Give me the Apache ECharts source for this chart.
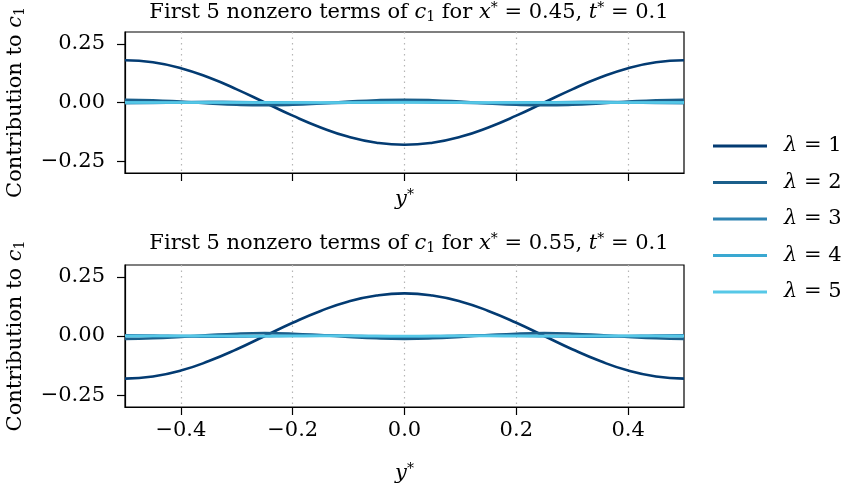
<!DOCTYPE html>
<html>
<head>
<meta charset="utf-8">
<script src="https://cdn.jsdelivr.net/npm/echarts@6/dist/echarts.min.js"></script>
<style>html,body{margin:0;padding:0;background:#fff;}#c{width:842px;height:490px;}</style>
</head>
<body>
<div id="c"></div>
<script>
// y* sample positions
const yStar = [-0.5,-0.45,-0.4,-0.35,-0.3,-0.25,-0.2,-0.15,-0.1,-0.05,0,0.05,0.1,0.15,0.2,0.25,0.3,0.35,0.4,0.45,0.5];
// top panel: x* = 0.45
const top1 = [0.180,0.171,0.146,0.106,0.056,0.000,-0.056,-0.106,-0.146,-0.171,-0.180,-0.171,-0.146,-0.106,-0.056,0.000,0.056,0.106,0.146,0.171,0.180];
const top2 = [0.012,0.0097,0.0037,-0.0037,-0.0097,-0.012,-0.0097,-0.0037,0.0037,0.0097,0.012,0.0097,0.0037,-0.0037,-0.0097,-0.012,-0.0097,-0.0037,0.0037,0.0097,0.012];
const top3 = [-0.003,-0.0018,0.0009,0.0029,0.0024,0.0,-0.0024,-0.0029,-0.0009,0.0018,0.003,0.0018,-0.0009,-0.0029,-0.0024,0.0,0.0024,0.0029,0.0009,-0.0018,-0.003];
const top4 = [0.001,0.0003,-0.0008,-0.0008,0.0003,0.001,0.0003,-0.0008,-0.0008,0.0003,0.001,0.0003,-0.0008,-0.0008,0.0003,0.001,0.0003,-0.0008,-0.0008,0.0003,0.001];
const top5 = [-0.0003,0,0.0003,0,-0.0003,0,0.0003,0,-0.0003,0,0.0003,0,-0.0003,0,0.0003,0,-0.0003,0,0.0003,0,-0.0003];
// bottom panel: x* = 0.55
const bot1 = [-0.180,-0.171,-0.146,-0.106,-0.056,0.000,0.056,0.106,0.146,0.171,0.180,0.171,0.146,0.106,0.056,0.000,-0.056,-0.106,-0.146,-0.171,-0.180];
const bot2 = [-0.012,-0.0097,-0.0037,0.0037,0.0097,0.012,0.0097,0.0037,-0.0037,-0.0097,-0.012,-0.0097,-0.0037,0.0037,0.0097,0.012,0.0097,0.0037,-0.0037,-0.0097,-0.012];
const bot3 = [0.003,0.0018,-0.0009,-0.0029,-0.0024,0.0,0.0024,0.0029,0.0009,-0.0018,-0.003,-0.0018,0.0009,0.0029,0.0024,0.0,-0.0024,-0.0029,-0.0009,0.0018,0.003];
const bot4 = [-0.001,-0.0003,0.0008,0.0008,-0.0003,-0.001,-0.0003,0.0008,0.0008,-0.0003,-0.001,-0.0003,0.0008,0.0008,-0.0003,-0.001,-0.0003,0.0008,0.0008,-0.0003,-0.001];
const bot5 = [0.0003,0,-0.0003,0,0.0003,0,-0.0003,0,0.0003,0,-0.0003,0,0.0003,0,-0.0003,0,0.0003,0,-0.0003,0,0.0003];
const xTicks = [-0.4,-0.2,0.0,0.2,0.4];
const yTicks = [-0.25,0.0,0.25];
const names = ['λ = 1','λ = 2','λ = 3','λ = 4','λ = 5'];
const colors = ['#033b72','#1b5f8b','#2d82b1','#3aa8d1','#56c8e7'];

const FONT = 'DejaVu Serif';
const FS = 21;
const rich = {
  i:{fontFamily:FONT,fontStyle:'italic',fontSize:FS,color:'#000'},
  n:{fontFamily:FONT,fontSize:FS,color:'#000'},
  sub:{fontFamily:FONT,fontSize:14,color:'#000',verticalAlign:'bottom',padding:[9,0,0,0]},
  sup:{fontFamily:FONT,fontSize:14,color:'#000',verticalAlign:'top',padding:[0,0,9,0]}
};
function fmtX(v){ return (v<0?'\u2212':'') + Math.abs(v).toFixed(1); }
function fmtY(v){ return (v<0?'\u2212':'') + Math.abs(v).toFixed(2); }

const grids = [
  {left:125, top:32, width:559, height:141},
  {left:125, top:265, width:559, height:142}
];
function mkX(i, showLabels){
  return {
    type:'value', gridIndex:i, min:-0.5, max:0.5,
    name:'{i|y}{sup|*}', nameLocation:'middle', nameGap: showLabels?55:15,
    nameTextStyle:{rich:rich},
    axisLine:{show:true,onZero:false,lineStyle:{color:'#000',width:1.2}},
    axisTick:{show:true,customValues:xTicks,length:8,lineStyle:{color:'#000',width:1.2}},
    axisLabel:{show:showLabels,customValues:xTicks,formatter:fmtX,fontFamily:FONT,fontSize:FS,color:'#000',margin:13},
    splitLine:{show:true,lineStyle:{color:'#b5b5b5',type:[1.5,4],width:1.2}}
  };
}
function mkY(i){
  return {
    type:'value', gridIndex:i, min:-0.3, max:0.3,
    name:'Contribution to {i|c}{sub|1}', nameLocation:'middle', nameRotate:90, nameGap:98,
    nameTextStyle:{fontFamily:FONT,fontSize:FS,color:'#000',rich:rich},
    axisLine:{show:true,onZero:false,lineStyle:{color:'#000',width:1.2}},
    axisTick:{show:true,customValues:yTicks,length:8,lineStyle:{color:'#000',width:1.2}},
    axisLabel:{customValues:yTicks,formatter:fmtY,fontFamily:FONT,fontSize:FS,color:'#000',margin:20},
    splitLine:{show:false}
  };
}
const topData=[top1,top2,top3,top4,top5], botData=[bot1,bot2,bot3,bot4,bot5];
const series=[];
[topData,botData].forEach((set,gi)=>{
  set.forEach((vals,k)=>{
    series.push({
      type:'line', name:names[k], xAxisIndex:gi, yAxisIndex:gi,
      data:yStar.map((y,j)=>[y,vals[j]]), smooth:true, symbol:'none',
      lineStyle:{color:colors[k],width:2.6}, itemStyle:{color:colors[k]},
      z:2+k, animation:false
    });
  });
});
const chart = echarts.init(document.getElementById('c'),null,{renderer:'canvas'});
chart.setOption({
  animation:false,
  backgroundColor:'#fff',
  title:[
    {text:'First 5 nonzero terms of {i|c}{sub|1} for {i|x}{sup|*} = 0.45, {i|t}{sup|*} = 0.1', left:404, top:-4, textAlign:'center',
     textStyle:{fontFamily:FONT,fontSize:FS,fontWeight:'normal',color:'#000',rich:rich}},
    {text:'First 5 nonzero terms of {i|c}{sub|1} for {i|x}{sup|*} = 0.55, {i|t}{sup|*} = 0.1', left:404, top:227, textAlign:'center',
     textStyle:{fontFamily:FONT,fontSize:FS,fontWeight:'normal',color:'#000',rich:rich}}
  ],
  legend:{
    data:names, orient:'vertical', left:708, top:130, icon:'rect', itemWidth:54, itemHeight:3, itemGap:14.5,
    formatter:function(n){ return '{sp|}{i|λ} = ' + n.slice(4); },
    textStyle:{fontFamily:FONT,fontSize:FS,color:'#000',lineHeight:22,rich:Object.assign({sp:{width:12}},rich)}
  },
  grid:grids.map(g=>Object.assign({show:true,borderColor:'#000',borderWidth:1.2,backgroundColor:'transparent',containLabel:false,outerBoundsMode:'none'},g)),
  xAxis:[mkX(0,false),mkX(1,true)],
  yAxis:[mkY(0),mkY(1)],
  series:series
});
</script>
</body>
</html>
